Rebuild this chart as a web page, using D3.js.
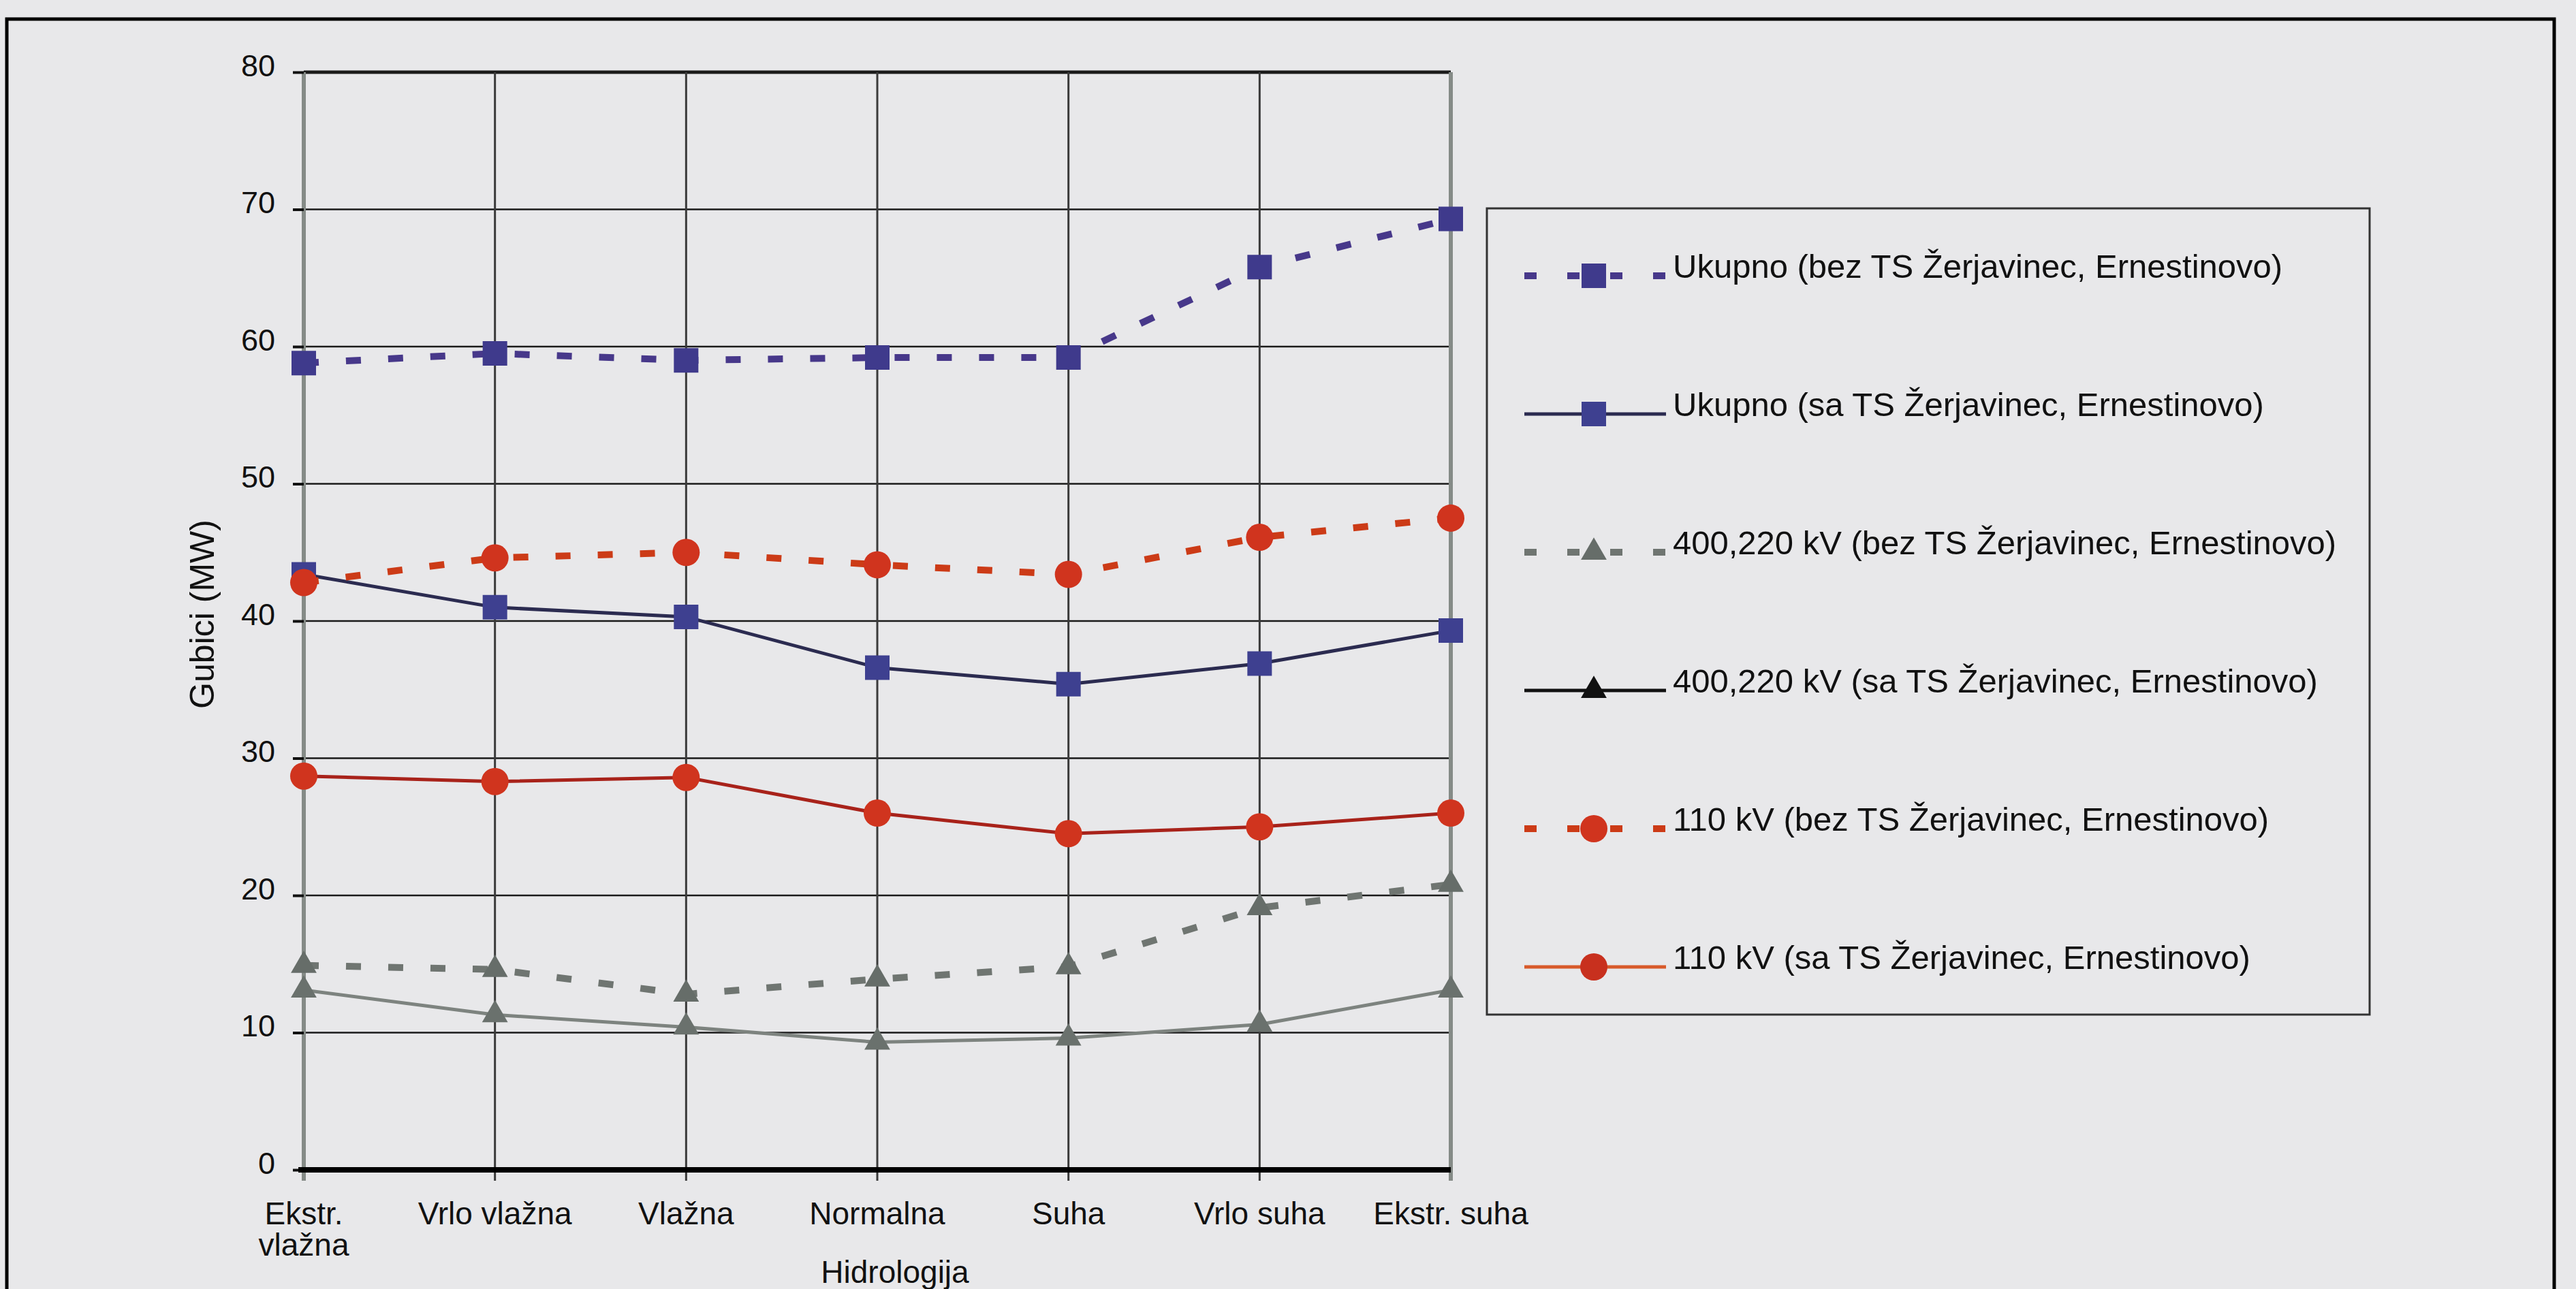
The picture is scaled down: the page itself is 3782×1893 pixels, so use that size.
<!DOCTYPE html>
<html>
<head>
<meta charset="utf-8">
<script src="https://cdn.jsdelivr.net/npm/d3@7"></script>
<style>
	html, body { margin: 0; padding: 0; background: #e8e8ea; }
	svg text { font-family: "Liberation Sans", Arial, Helvetica, sans-serif; fill: #111; }
</style>
</head>
<body>
<div id="chart"></div>
<script>
// Categories (hydrology) and tick values
var categories = ["Ekstr.\nvlažna", "Vrlo vlažna", "Vlažna", "Normalna", "Suha", "Vrlo suha", "Ekstr. suha"];
var yTicks = [0, 10, 20, 30, 40, 50, 60, 70, 80];

// Losses (MW)
var ukupnoBez = [58.8, 59.5, 59.0, 59.2, 59.2, 65.8, 69.3];
var ukupnoSa = [43.4, 41.0, 40.3, 36.6, 35.4, 36.9, 39.3];
var kv400Bez = [14.9, 14.6, 12.8, 13.9, 14.8, 19.1, 20.8];
var kv400Sa = [13.1, 11.3, 10.4, 9.3, 9.6, 10.6, 13.1];
var kv110Bez = [42.8, 44.6, 45.0, 44.1, 43.4, 46.1, 47.5];
var kv110Sa = [28.7, 28.3, 28.6, 26.0, 24.5, 25.0, 26.0];

var legendLabels = [
	"Ukupno (bez TS Žerjavinec, Ernestinovo)",
	"Ukupno (sa TS Žerjavinec, Ernestinovo)",
	"400,220 kV (bez TS Žerjavinec, Ernestinovo)",
	"400,220 kV (sa TS Žerjavinec, Ernestinovo)",
	"110 kV (bez TS Žerjavinec, Ernestinovo)",
	"110 kV (sa TS Žerjavinec, Ernestinovo)"
];

// styles per series, same order as the legend
var series = [
	{ v: ukupnoBez, line: "#47388a", mark: "#3f3a8c", sym: d3.symbolSquare, size: 1296, dash: "22,40", w: 10, lgLine: "#47388a", lgMark: "#3f3a8c" },
	{ v: ukupnoSa, line: "#2b2b50", mark: "#3e4090", sym: d3.symbolSquare, size: 1296, dash: null, w: 5, lgLine: "#2b2b50", lgMark: "#3e4090" },
	{ v: kv400Bez, line: "#6f7571", mark: "#666d69", sym: d3.symbolTriangle, size: 620, dash: "22,40", w: 10, lgLine: "#6f7571", lgMark: "#666d69" },
	{ v: kv400Sa, line: "#7d837f", mark: "#6a716d", sym: d3.symbolTriangle, size: 620, dash: null, w: 5, lgLine: "#111", lgMark: "#111" },
	{ v: kv110Bez, line: "#cc3b17", mark: "#d0341e", sym: d3.symbolCircle, size: 1257, dash: "22,40", w: 10, lgLine: "#cc3b17", lgMark: "#d0341e" },
	{ v: kv110Sa, line: "#a8221a", mark: "#d0341e", sym: d3.symbolCircle, size: 1257, dash: null, w: 5, lgLine: "#d85a2a", lgMark: "#c8301e" }
];

var W = 3782, H = 1893;
var svg = d3.select("#chart").append("svg")
	.attr("width", W)
	.attr("height", H);

svg.append("rect").attr("width", W).attr("height", H).attr("fill", "#e8e8ea");

// outer frame
svg.append("rect")
	.attr("x", 10).attr("y", 28)
	.attr("width", 3740).attr("height", 1950)
	.attr("fill", "none").attr("stroke", "#000").attr("stroke-width", 5);

var x = d3.scalePoint()
	.domain(categories)
	.range([446, 2130])
	.padding(0);

var y = d3.scaleLinear()
	.domain([0, 80])
	.range([1718, 106]);

// horizontal grid
svg.append("g").selectAll("line")
	.data(yTicks.filter(function(d) { return d > 0; }))
	.enter().append("line")
	.attr("x1", x.range()[0]).attr("x2", x.range()[1])
	.attr("y1", function(d) { return y(d); })
	.attr("y2", function(d) { return y(d); })
	.attr("stroke", "#1a1a1a")
	.attr("stroke-width", function(d) { return d == 80 ? 5 : 2.5; });

// vertical grid
svg.append("g").selectAll("line")
	.data(categories)
	.enter().append("line")
	.attr("x1", function(d) { return x(d); })
	.attr("x2", function(d) { return x(d); })
	.attr("y1", y(80)).attr("y2", y(0) + 16)
	.attr("stroke", function(d, i) { return (i == 0 || i == categories.length - 1) ? "#858b87" : "#3a3a3a"; })
	.attr("stroke-width", function(d, i) { return (i == 0 || i == categories.length - 1) ? 6 : 3; });

// Y axis
var yAxis = d3.axisLeft(y).tickValues(yTicks).tickSize(16).tickPadding(26);
var gy = svg.append("g")
	.attr("transform", "translate(" + x.range()[0] + ",0)")
	.call(yAxis);
gy.select(".domain").remove();
gy.selectAll(".tick line").attr("stroke", "#111").attr("stroke-width", 4);
gy.selectAll(".tick text")
	.attr("font-size", 45)
	.attr("dy", "0.12em")
	.attr("fill", "#111");

// X axis baseline
svg.append("line")
	.attr("x1", x.range()[0] - 8).attr("x2", x.range()[1])
	.attr("y1", y(0)).attr("y2", y(0))
	.attr("stroke", "#000").attr("stroke-width", 8);

var xAxis = d3.axisBottom(x).tickSize(0).tickFormat("");
var gx = svg.append("g")
	.attr("transform", "translate(0," + y(0) + ")")
	.call(xAxis);
gx.select(".domain").remove();

var xl = svg.append("g").selectAll("text")
	.data(categories)
	.enter().append("text")
	.attr("text-anchor", "middle")
	.attr("font-size", 46)
	.attr("transform", function(d) { return "translate(" + x(d) + ",1798)"; });
xl.each(function(d) {
	var t = d3.select(this);
	d.split("\n").forEach(function(s, i) {
		t.append("tspan").attr("x", 0).attr("y", i * 46).text(s);
	});
});

// axis titles
svg.append("text")
	.attr("text-anchor", "middle")
	.attr("font-size", 46)
	.attr("x", 1314).attr("y", 1884)
	.text("Hidrologija");

svg.append("text")
	.attr("text-anchor", "middle")
	.attr("font-size", 50)
	.attr("transform", "translate(314,902) rotate(-90)")
	.text("Gubici (MW)");

// series lines
var line = d3.line()
	.x(function(d, i) { return x(categories[i]); })
	.y(function(d) { return y(d); });

var gl = svg.append("g");
series.forEach(function(s) {
	gl.append("path")
		.datum(s.v)
		.attr("d", line)
		.attr("fill", "none")
		.attr("stroke", s.line)
		.attr("stroke-width", s.w)
		.attr("stroke-dasharray", s.dash);
});

series.forEach(function(s) {
	gl.selectAll(null)
		.data(s.v)
		.enter().append("path")
		.attr("d", d3.symbol().type(s.sym).size(s.size))
		.attr("transform", function(d, i) { return "translate(" + x(categories[i]) + "," + y(d) + ")"; })
		.attr("fill", s.mark);
});

// legend
var lg = svg.append("g");
lg.append("rect")
	.attr("x", 2183).attr("y", 306)
	.attr("width", 1296).attr("height", 1184)
	.attr("fill", "#e8e8ea")
	.attr("stroke", "#333").attr("stroke-width", 3);

var item = lg.selectAll(".item")
	.data(series)
	.enter().append("g")
	.attr("class", "item")
	.attr("transform", function(d, i) { return "translate(0," + (405 + i * 203) + ")"; });

item.append("line")
	.attr("x1", 2238).attr("x2", 2446)
	.attr("y1", 0).attr("y2", 0)
	.attr("stroke", function(d) { return d.lgLine; })
	.attr("stroke-width", function(d) { return d.dash ? 10 : 5; })
	.attr("stroke-dasharray", function(d) { return d.dash ? "18,45" : null; });

item.append("path")
	.attr("d", function(d) { return d3.symbol().type(d.sym).size(d.size)(); })
	.attr("transform", "translate(2340,0)")
	.attr("fill", function(d) { return d.lgMark; });

item.append("text")
	.attr("x", 2456).attr("y", 3)
	.attr("font-size", 49)
	.text(function(d, i) { return legendLabels[i]; });
</script>
</body>
</html>
